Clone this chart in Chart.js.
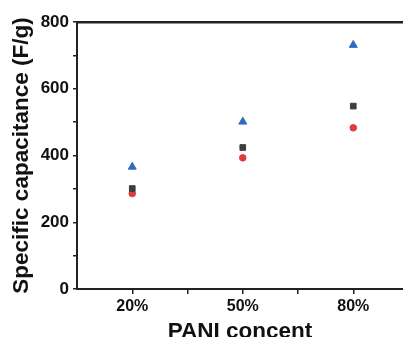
<!DOCTYPE html>
<html>
<head>
<meta charset="utf-8">
<script src="https://cdn.jsdelivr.net/npm/chart.js@4"></script>
<style>
  html, body { margin: 0; padding: 0; background: #fff; overflow: hidden; }
</style>
</head>
<body>
<canvas id="chart-canvas" width="403" height="337"></canvas>
<script>
// PANI content categories and capacitance readings (F/g)
const categories = ['20%', '50%', '80%'];
const triangleValues = [366, 501, 731];
const squareValues = [301, 424, 548];
const circleValues = [286, 393, 483];
const yTicks = [0, 200, 400, 600, 800];

const FONT = "'Liberation Sans', Arial, sans-serif";

function toPoints(values) {
  return values.map((v, i) => ({ x: i, y: v }));
}

new Chart(document.getElementById('chart-canvas'), {
  type: 'scatter',
  data: {
    datasets: [
      {
        label: 'Triangle',
        data: toPoints(triangleValues),
        pointStyle: 'triangle',
        pointRadius: 4.6,
        borderWidth: 1,
        borderColor: '#2e6cbf',
        backgroundColor: '#2e6cbf',
      },
      {
        label: 'Square',
        data: toPoints(squareValues),
        pointStyle: 'rect',
        pointRadius: 4,
        borderWidth: 1,
        borderColor: '#3d3d3d',
        backgroundColor: '#3d3d3d',
      },
      {
        label: 'Circle',
        data: toPoints(circleValues),
        pointStyle: 'circle',
        pointRadius: 3.3,
        borderWidth: 1,
        borderColor: '#df3a3e',
        backgroundColor: '#df3a3e',
      }
    ]
  },
  options: {
    responsive: false,
    animation: false,
    devicePixelRatio: 1,
    layout: { padding: 0, autoPadding: false },
    plugins: {
      legend: { display: false },
      tooltip: { enabled: false },
    },
    scales: {
      x: {
        type: 'linear',
        position: 'bottom',
        min: -0.5,
        max: 2.45,
        afterBuildTicks: function(axis) {
          const ticks = [];
          categories.forEach((c, i) => {
            ticks.push({ value: i });
            if (i < categories.length - 1) ticks.push({ value: i + 0.5 });
          });
          axis.ticks = ticks;
        },
        afterFit: function(scale) {
          scale.height = 48;
          scale.paddingLeft = 0;
          scale.paddingRight = 0;
        },
        grid: { drawOnChartArea: false, tickLength: 5, color: '#222', lineWidth: 1.5 },
        border: { color: '#222', width: 2 },
        ticks: {
          padding: 3,
          color: '#111',
          font: { family: FONT, size: 16, weight: 'bold' },
          maxRotation: 0,
          autoSkip: false,
          callback: function(val) {
            return Number.isInteger(val) ? categories[val] : '';
          }
        },
        title: {
          display: true,
          text: 'PANI concent',
          color: '#111',
          font: { family: FONT, size: 22.5, weight: 'bold' },
          padding: { top: 0, bottom: -8 }
        }
      },
      xTop: {
        type: 'linear',
        position: 'top',
        min: -0.5,
        max: 2.45,
        afterFit: function(scale) {
          scale.height = 22;
          scale.paddingLeft = 0;
          scale.paddingRight = 0;
        },
        grid: { display: false },
        ticks: { display: false },
        border: { color: '#222', width: 2.5 }
      },
      y: {
        min: 0,
        max: 800,
        afterBuildTicks: function(axis) {
          const ticks = [];
          for (let i = 0; i < yTicks.length; i++) {
            ticks.push({ value: yTicks[i] });
            if (i < yTicks.length - 1) ticks.push({ value: (yTicks[i] + yTicks[i + 1]) / 2 });
          }
          axis.ticks = ticks;
        },
        afterFit: function(scale) { scale.width = 77; },
        grid: { drawOnChartArea: false, tickLength: 4, color: '#222', lineWidth: 1.5 },
        border: { color: '#222', width: 2 },
        ticks: {
          padding: 4,
          color: '#111',
          font: { family: FONT, size: 17, weight: 'bold' },
          callback: function(val) {
            return yTicks.includes(val) ? val : '';
          }
        },
        title: {
          display: true,
          text: 'Specific capacitance (F/g)',
          color: '#111',
          font: { family: FONT, size: 22.5, weight: 'bold' },
          padding: { top: 8, bottom: 0 }
        }
      }
    }
  }
});
</script>
</body>
</html>
